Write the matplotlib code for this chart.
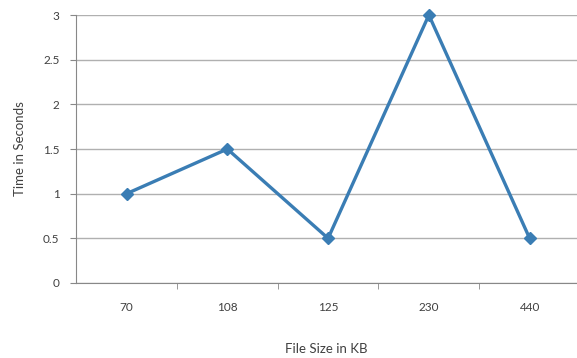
import matplotlib.pyplot as plt

sizes = ["70", "108", "125", "230", "440"]
times = [1, 1.5, 0.5, 3, 0.5]
yticks = [0, 0.5, 1, 1.5, 2, 2.5, 3]

plt.rcParams['font.family'] = ['Lato', 'DejaVu Sans']

fig = plt.figure(figsize=(5.77, 3.58), dpi=100)
ax = fig.add_axes([0.132, 0.2095, 0.868, 0.7485])

ax.plot(range(len(sizes)), times, color="#3a7db4", lw=2.4, marker="D", ms=6,
        zorder=3, clip_on=False)

ax.set_xlim(-0.5, 4.47)
ax.set_ylim(0, 3)
ax.set_yticks(yticks)
ax.set_yticklabels(["0", "0.5", "1", "1.5", "2", "2.5", "3"])
ax.yaxis.grid(True, color="#b0b0b0", lw=1)
ax.set_axisbelow(True)

# category labels centred, tick marks on the boundaries
ax.set_xticks(range(len(sizes)))
ax.set_xticklabels(sizes)
ax.tick_params(axis="x", which="major", length=0, pad=14, labelsize=8.5, labelcolor="#404040")
ax.set_xticks([0.5, 1.5, 2.5, 3.5], minor=True)
ax.tick_params(axis="x", which="minor", length=4, color="#888888", direction="out")
ax.tick_params(axis="y", length=4, color="#888888", labelsize=8.5, labelcolor="#404040", pad=8)

for s in ["top", "right"]:
    ax.spines[s].set_visible(False)
for s in ["left", "bottom"]:
    ax.spines[s].set_color("#888888")

ax.set_ylabel("Time in Seconds", fontsize=9.5, color="#404040", labelpad=12)
ax.set_xlabel("File Size in KB", fontsize=9.5, color="#404040", labelpad=21)

fig.savefig("out.png", dpi=100)
